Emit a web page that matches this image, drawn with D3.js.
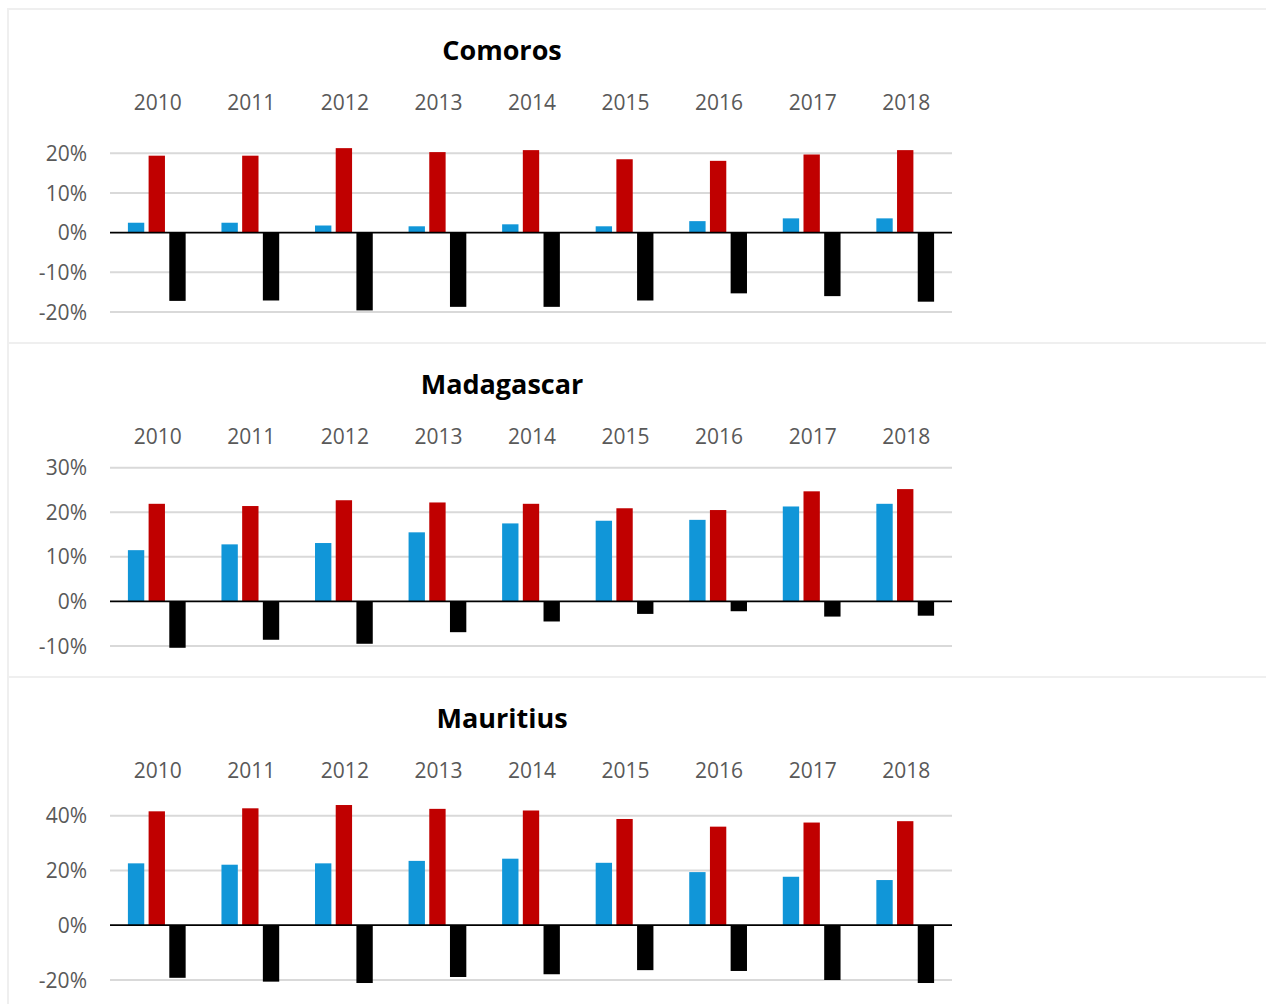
<!DOCTYPE html>
<html>
<head>
<meta charset="utf-8">
<script src="https://d3js.org/d3.v7.min.js"></script>
<style>
  body { margin: 0; background: #fff; }
  svg { display: block; }
</style>
</head>
<body>
<div id="chart"></div>
<script>
// years shown on every panel
var years = ["2010","2011","2012","2013","2014","2015","2016","2017","2018"];

// Comoros
var comorosBlue  = [0.025, 0.025, 0.018, 0.016, 0.021, 0.016, 0.029, 0.036, 0.036];
var comorosRed   = [0.194, 0.194, 0.213, 0.203, 0.208, 0.185, 0.181, 0.197, 0.208];
var comorosBlack = [-0.172, -0.171, -0.196, -0.187, -0.187, -0.171, -0.153, -0.160, -0.174];
var comorosTicks = [-0.2, -0.1, 0, 0.1, 0.2];

// Madagascar
var madaBlue  = [0.115, 0.128, 0.131, 0.155, 0.175, 0.181, 0.183, 0.213, 0.219];
var madaRed   = [0.219, 0.214, 0.227, 0.222, 0.219, 0.209, 0.205, 0.247, 0.252];
var madaBlack = [-0.104, -0.086, -0.095, -0.069, -0.045, -0.028, -0.022, -0.034, -0.032];
var madaTicks = [-0.1, 0, 0.1, 0.2, 0.3];

// Mauritius
var mauBlue  = [0.226, 0.221, 0.226, 0.235, 0.243, 0.228, 0.194, 0.177, 0.165];
var mauRed   = [0.416, 0.427, 0.439, 0.425, 0.419, 0.388, 0.360, 0.375, 0.380];
var mauBlack = [-0.192, -0.206, -0.211, -0.189, -0.179, -0.164, -0.167, -0.200, -0.211];
var mauTicks = [-0.2, 0, 0.2, 0.4];

var seriesKeys = ["blue", "red", "black"];
var colors = {blue: "#1196d8", red: "#c00000", black: "#000000"};

var panels = [
  {name: "Comoros",    blue: comorosBlue, red: comorosRed, black: comorosBlack, ticks: comorosTicks, top: 8,   plotTop: 145.3},
  {name: "Madagascar", blue: madaBlue,    red: madaRed,    black: madaBlack,    ticks: madaTicks,    top: 342, plotTop: 125.7},
  {name: "Mauritius",  blue: mauBlue,     red: mauRed,     black: mauBlack,     ticks: mauTicks,     top: 676, plotTop: 139.7}
];

var W = 1266, H = 1004;
var plotLeft = 110, plotRight = 952, plotBottom = 304, panelH = 334;

var pct = function(d){ return d3.format(".0%")(d).replace("\u2212", "-"); };

var svg = d3.select("#chart").append("svg")
    .attr("width", W)
    .attr("height", H)

var x0 = d3.scaleBand().domain(years).range([plotLeft, plotRight]).padding(0);
var x1 = d3.scaleBand().domain(seriesKeys).range([0, x0.bandwidth()])
    .paddingInner(0.21).paddingOuter(0.865);

panels.forEach(function(p){
    var g = svg.append("g").attr("transform", "translate(0," + p.top + ")");

    // panel frame
    g.append("rect")
        .attr("x", 8).attr("y", 1)
        .attr("width", W + 20).attr("height", panelH)
        .attr("fill", "none")
        .attr("stroke", "#efefef")
        .attr("stroke-width", 2);

    var y = d3.scaleLinear()
        .domain([p.ticks[0], p.ticks[p.ticks.length - 1]])
        .range([plotBottom, p.plotTop]);

    // gridlines
    g.selectAll("line.grid")
        .data(p.ticks.filter(function(t){ return t !== 0; }))
        .enter()
        .append("line")
        .attr("class", "grid")
        .attr("x1", plotLeft).attr("x2", plotRight)
        .attr("y1", function(d){ return y(d); })
        .attr("y2", function(d){ return y(d); })
        .attr("stroke", "#d9d9d9")
        .attr("stroke-width", 2);

    // y tick labels
    g.selectAll("text.ytick")
        .data(p.ticks)
        .enter()
        .append("text")
        .attr("class", "ytick")
        .attr("x", 87)
        .attr("y", function(d){ return y(d); })
        .attr("dy", "0.36em")
        .attr("text-anchor", "end")
        .attr("font-family", "Open Sans")
        .attr("font-size", 21)
        .attr("fill", "#595959")
        .text(pct);

    // bars
    var rows = years.map(function(yr, i){
        return {year: yr, vals: seriesKeys.map(function(k){ return {key: k, v: p[k][i]}; })};
    });
    g.selectAll("g.year")
        .data(rows)
        .enter()
        .append("g")
        .attr("class", "year")
        .attr("transform", function(d){ return "translate(" + x0(d.year) + ",0)"; })
        .selectAll("rect")
        .data(function(d){ return d.vals; })
        .enter()
        .append("rect")
        .attr("x", function(d){ return x1(d.key); })
        .attr("width", x1.bandwidth())
        .attr("y", function(d){ return y(Math.max(0, d.v)); })
        .attr("height", function(d){ return Math.abs(y(d.v) - y(0)); })
        .attr("fill", function(d){ return colors[d.key]; });

    // zero line
    g.append("line")
        .attr("x1", plotLeft).attr("x2", plotRight)
        .attr("y1", y(0)).attr("y2", y(0))
        .attr("stroke", "#000")
        .attr("stroke-width", 1.75);

    // year labels across the top
    g.selectAll("text.year")
        .data(years)
        .enter()
        .append("text")
        .attr("class", "year")
        .attr("x", function(d){ return x0(d) + x0.bandwidth() / 2 + 1; })
        .attr("y", 102)
        .attr("text-anchor", "middle")
        .attr("font-family", "Open Sans")
        .attr("font-size", 21)
        .attr("fill", "#595959")
        .text(function(d){ return d; });

    // title
    g.append("text")
        .attr("x", 502)
        .attr("y", 52)
        .attr("text-anchor", "middle")
        .attr("font-family", "Open Sans")
        .attr("font-weight", "bold")
        .attr("font-size", 27)
        .attr("fill", "#000")
        .text(p.name);
});
</script>
</body>
</html>
